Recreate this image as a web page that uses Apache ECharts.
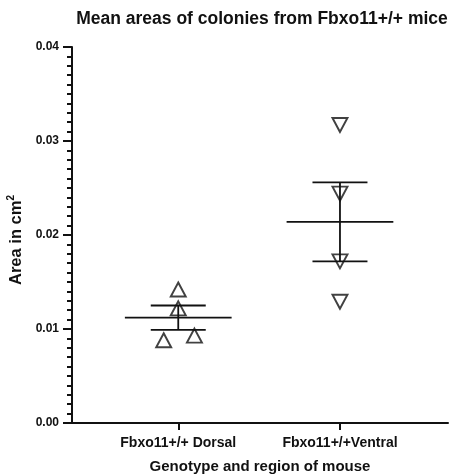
<!DOCTYPE html>
<html>
<head>
<meta charset="utf-8">
<script src="https://cdn.jsdelivr.net/npm/echarts@6/dist/echarts.min.js"></script>
<style>
  html, body { margin: 0; padding: 0; background: #fff; }
  #chart { width: 453px; height: 476px; }
</style>
</head>
<body>
<div id="chart"></div>
<script>
// Groups along the x axis and their positions
const groups = ['Fbxo11+/+ Dorsal', 'Fbxo11+/+Ventral'];
const groupPos = [1, 2];

// Individual colony areas (cm^2) with a small horizontal offset for overlapping points
const dorsalAreas = [0.0142, 0.0122, 0.0088, 0.0093];
const dorsalOffsets = [0, 0, -0.09, 0.10];
const ventralAreas = [0.0317, 0.0244, 0.0172, 0.0129];
const ventralOffsets = [0, 0, 0, 0];

// Group mean and standard error
const groupMeans = [0.0112, 0.0214];
const groupSems = [0.0013, 0.0042];

// Y axis ticks
const yTicks = [0, 0.01, 0.02, 0.03, 0.04];

const FONT = '"Liberation Sans", Arial, sans-serif';

const chart = echarts.init(document.getElementById('chart'), null, { renderer: 'canvas' });

const dorsalData = dorsalAreas.map((v, i) => [groupPos[0] + dorsalOffsets[i], v]);
const ventralData = ventralAreas.map((v, i) => [groupPos[1] + ventralOffsets[i], v]);
const summaryData = groupPos.map((p, i) => [p, groupMeans[i], groupSems[i]]);

const option = {
  backgroundColor: '#fff',
  animation: false,
  title: {
    text: 'Mean areas of colonies from Fbxo11+/+ mice',
    left: 257,
    top: 5,
    textAlign: 'center',
    textStyle: { fontFamily: FONT, fontWeight: 'bold', fontSize: 17.5, color: '#111' }
  },
  grid: { left: 72, right: 5, top: 47, bottom: 53, outerBoundsMode: 'none', containLabel: false },
  xAxis: {
    type: 'value',
    min: 0.343,
    max: 2.668,
    name: 'Genotype and region of mouse',
    nameLocation: 'middle',
    nameGap: 36,
    nameTextStyle: { fontFamily: FONT, fontWeight: 'bold', fontSize: 15, color: '#111' },
    splitLine: { show: false },
    axisLine: { lineStyle: { color: '#111', width: 2 } },
    axisTick: { show: true, length: 7, lineStyle: { color: '#111', width: 2 }, customValues: groupPos },
    axisLabel: {
      customValues: groupPos,
      margin: 13,
      fontFamily: FONT, fontWeight: 'bold', fontSize: 14, color: '#111',
      formatter: v => groups[groupPos.indexOf(Math.round(v))] || ''
    }
  },
  yAxis: {
    type: 'value',
    min: yTicks[0],
    max: yTicks[yTicks.length - 1],
    interval: 0.01,
    name: '{n|Area in cm}{s|2}',
    nameLocation: 'middle',
    nameGap: 44,
    nameRotate: 90,
    nameTextStyle: {
      padding: [0, 10, 0, 0],
      rich: {
        n: { fontFamily: FONT, fontWeight: 'bold', fontSize: 16.5, color: '#111' },
        s: { fontFamily: FONT, fontWeight: 'bold', fontSize: 10, color: '#111', verticalAlign: 'top', padding: [0, 0, 9, 0] }
      }
    },
    splitLine: { show: false },
    axisLine: { show: true, lineStyle: { color: '#111', width: 2 } },
    axisTick: { show: true, inside: false, length: 9, lineStyle: { color: '#111', width: 2 } },
    minorTick: { show: true, splitNumber: 10, length: 5, lineStyle: { color: '#111', width: 2 } },
    axisLabel: {
      margin: 13,
      fontFamily: FONT, fontWeight: 'bold', fontSize: 12, color: '#111',
      formatter: v => v.toFixed(2)
    }
  },
  series: [
    {
      name: 'summary',
      type: 'custom',
      data: summaryData,
      z: 3,
      renderItem: (params, api) => {
        const x = api.value(0), m = api.value(1), s = api.value(2);
        const meanHalf = 0.33, semHalf = 0.17;
        const a = api.coord([x - meanHalf, m]), b = api.coord([x + meanHalf, m]);
        const hiL = api.coord([x - semHalf, m + s]), hiR = api.coord([x + semHalf, m + s]);
        const loL = api.coord([x - semHalf, m - s]), loR = api.coord([x + semHalf, m - s]);
        const top = api.coord([x, m + s]), bot = api.coord([x, m - s]);
        const style = { stroke: '#111', lineWidth: 1.8, fill: null };
        return {
          type: 'group',
          children: [
            { type: 'line', shape: { x1: a[0], y1: a[1], x2: b[0], y2: b[1] }, style },
            { type: 'line', shape: { x1: hiL[0], y1: hiL[1], x2: hiR[0], y2: hiR[1] }, style },
            { type: 'line', shape: { x1: loL[0], y1: loL[1], x2: loR[0], y2: loR[1] }, style },
            { type: 'line', shape: { x1: top[0], y1: top[1], x2: bot[0], y2: bot[1] }, style }
          ]
        };
      }
    },
    {
      name: 'Dorsal',
      type: 'scatter',
      data: dorsalData,
      symbol: 'triangle',
      symbolSize: [15, 14],
      z: 4,
      itemStyle: { color: 'rgba(255,255,255,0)', borderColor: '#111', borderWidth: 1.9 }
    },
    {
      name: 'Ventral',
      type: 'scatter',
      data: ventralData,
      symbol: 'triangle',
      symbolRotate: 180,
      symbolSize: [15, 14],
      z: 4,
      itemStyle: { color: 'rgba(255,255,255,0)', borderColor: '#111', borderWidth: 1.9 }
    }
  ]
};

chart.setOption(option);
</script>
</body>
</html>
